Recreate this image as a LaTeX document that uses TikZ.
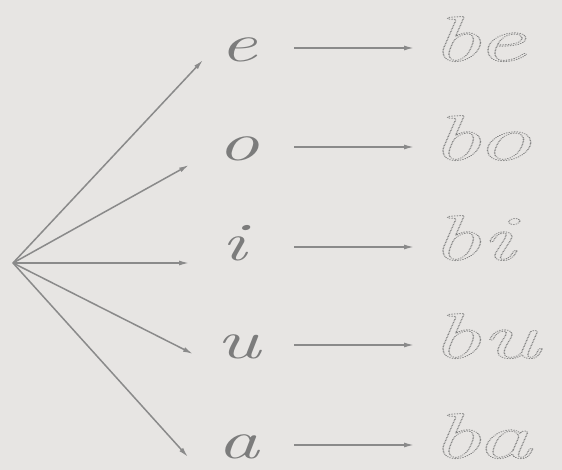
\documentclass[tikz,border=0pt]{standalone}
\usepackage{fontspec}
\usepackage{graphicx}
\usetikzlibrary{arrows.meta}
\definecolor{bg}{HTML}{E7E5E3}
\definecolor{ln}{HTML}{8A8A8A}
\definecolor{tx}{HTML}{7C7C7C}
\definecolor{dt}{HTML}{8E8E8E}
\tikzset{
  conn/.style={draw=ln, line width=1.5pt, -{Latex[length=10pt,width=5pt]}},
  vowel/.style={anchor=base, text=tx, inner sep=0pt,
    font=\fontsize{54}{60}\selectfont\itshape},
  syll/.style={anchor=base west, inner sep=0pt, text=dt,
    font=\fontsize{64}{66}\selectfont\itshape}
}
% dotted outline letters (tracing exercise)
\newcommand{\traced}[1]{\scalebox{1.75}[1]{\special{pdf:literal direct 1 Tr 0.52 G 1.0 w 1 J [0.1 1.45] 0 d}#1\special{pdf:literal direct 0 Tr [] 0 d}}}
% wide filled letters
\newcommand{\cur}[1]{\scalebox{1.55}[1]{#1}}
\begin{document}
\begin{tikzpicture}[x=1pt,y=1pt]
\fill[bg] (0,0) rectangle (562,470);
\useasboundingbox (0,0) rectangle (562,470);
\coordinate (src) at (13,207);
% vowels
\node[vowel] (e) at (238,408) {\cur{e}};
\node[vowel] (o) at (238,309) {\cur{o}};
\node[vowel] (i) at (234,209) {\cur{i}};
\node[vowel] (u) at (238,111) {\cur{u}};
\node[vowel] (a) at (238,11) {\cur{a}};
% syllables
\node[syll] (be) at (430,409) {\traced{be}};
\node[syll] (bo) at (430,310) {\traced{bo}};
\node[syll] (bi) at (430,210) {\traced{bi}};
\node[syll] (bu) at (430,112) {\traced{bu}};
\node[syll] (ba) at (430,12) {\traced{ba}};
% arrow tips
\coordinate (te) at (203,410);
\coordinate (to) at (189,305);
\coordinate (ti) at (189,207);
\coordinate (tu) at (193,116);
\coordinate (ta) at (188,13);
\draw[conn] (src) -- (te);
\draw[conn] (src) -- (to);
\draw[conn] (src) -- (ti);
\draw[conn] (src) -- (tu);
\draw[conn] (src) -- (ta);
% horizontal arrows
\foreach \n/\y in {1/422,2/323,3/223,4/125,5/25}{
  \coordinate (hs\n) at (294,\y);
  \coordinate (he\n) at (414,\y);
  \draw[conn] (hs\n) -- (he\n);
}
\end{tikzpicture}
\end{document}
